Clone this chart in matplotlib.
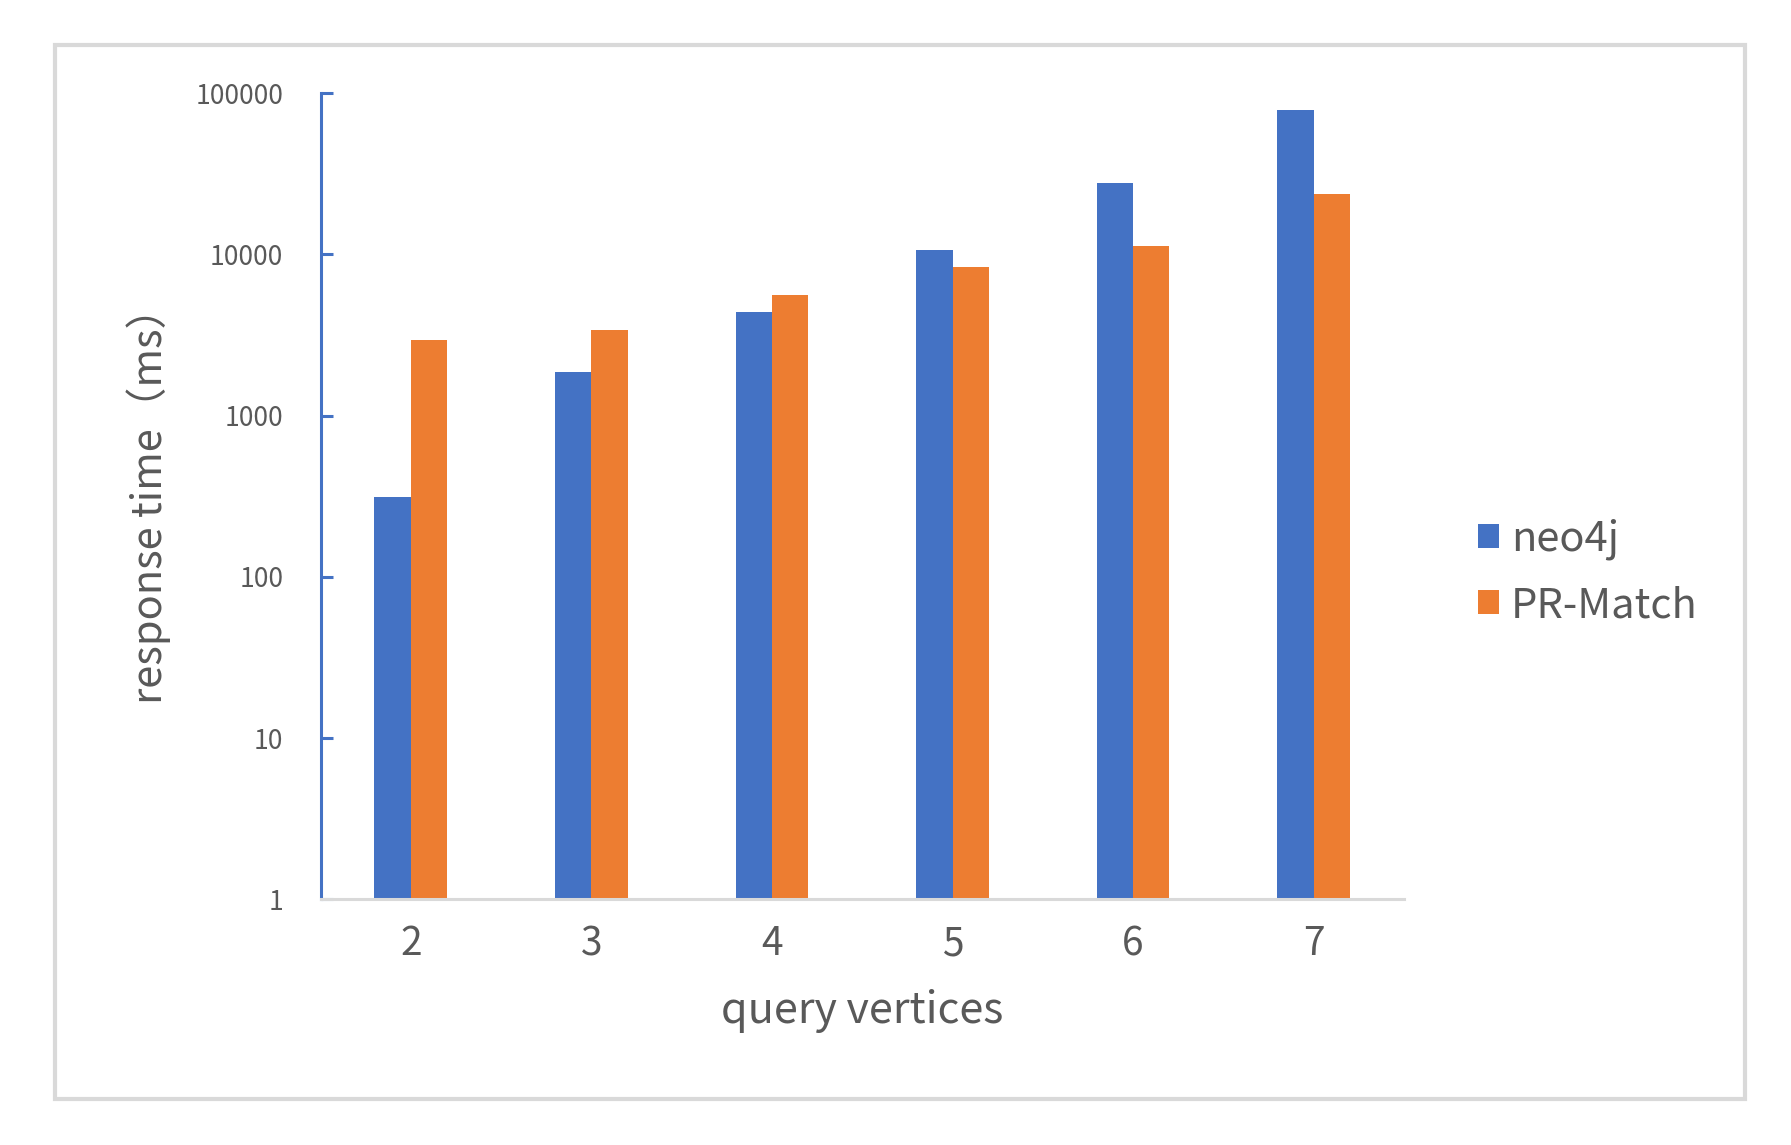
import matplotlib
matplotlib.use("Agg")
import matplotlib.pyplot as plt
from matplotlib.patches import Rectangle
import numpy as np

plt.rcParams['font.family'] = ['Noto Sans CJK SC', 'DejaVu Sans']

categories = ["2", "3", "4", "5", "6", "7"]
neo4j = [312, 1875, 4380, 10700, 27600, 78800]
pr_match = [2940, 3400, 5630, 8330, 11300, 23700]
series_names = ["neo4j", "PR-Match"]
yticks = [1, 10, 100, 1000, 10000, 100000]
ytick_labels = ["1", "10", "100", "1000", "10000", "100000"]

BLUE = "#4472C4"
ORANGE = "#ED7D31"
TXT = "#595959"

W, H = 1791, 1145
fig = plt.figure(figsize=(W / 100, H / 100), dpi=100)
fig.patch.set_facecolor("white")

# outer frame
fig.add_artist(Rectangle((54.5 / W, 1 - 1099 / H), (1745 - 54.5) / W, (1099 - 45.3) / H,
                         transform=fig.transFigure, fill=False, ec="#d9d9d9", lw=3))

x0, x1 = 320.7, 1403.8
ytop, ybot = 93.3, 899.3
ax = fig.add_axes([x0 / W, 1 - ybot / H, (x1 - x0) / W, (ybot - ytop) / H])

x = np.arange(len(categories))
bw = 0.202
ax.bar(x - bw / 2, neo4j, width=bw, color=BLUE, label=series_names[0], zorder=2)
ax.bar(x + bw / 2, pr_match, width=bw, color=ORANGE, label=series_names[1], zorder=2)

ax.set_yscale("log")
ax.set_ylim(1, 100000)
ax.set_xlim(-0.5, len(categories) - 0.5)
ax.set_yticks(yticks)
ax.set_yticklabels(ytick_labels)
ax.yaxis.set_minor_locator(matplotlib.ticker.NullLocator())
ax.set_xticks(x)
ax.set_xticklabels(categories)

for s in ["top", "right"]:
    ax.spines[s].set_visible(False)
ax.spines["left"].set_color(BLUE)
ax.spines["left"].set_linewidth(2.2)
ax.spines["bottom"].set_color("#d9d9d9")
ax.spines["bottom"].set_linewidth(2.2)
ax.spines["bottom"].set_zorder(3)

ax.tick_params(axis="y", direction="in", length=8.6, width=2.2, color=BLUE,
               labelsize=19, labelcolor=TXT, pad=27)
ax.tick_params(axis="x", length=0, labelsize=28, labelcolor=TXT, pad=18)
for lab in ax.get_yticklabels():
    lab.set_va("center_baseline")

ax.set_xlabel("query vertices", fontsize=31, color=TXT)
ax.xaxis.set_label_coords(0.5, -0.138)
ax.xaxis.label.set_va("center")
ax.set_ylabel("response time（ms）", fontsize=30, color=TXT)
ax.yaxis.set_label_coords(-0.1585, 0.5016)
ax.yaxis.label.set_va("center")

leg = ax.legend(loc="center left", bbox_to_anchor=(1477.7 / W, 1 - 572.4 / H),
                bbox_transform=fig.transFigure, frameon=False, fontsize=30,
                handlelength=0.5, handleheight=0.5, handletextpad=0.3,
                labelspacing=0.6, borderpad=0, borderaxespad=0)
for t in leg.get_texts():
    t.set_color(TXT)

fig.savefig("out.png", dpi=100, facecolor="white")
